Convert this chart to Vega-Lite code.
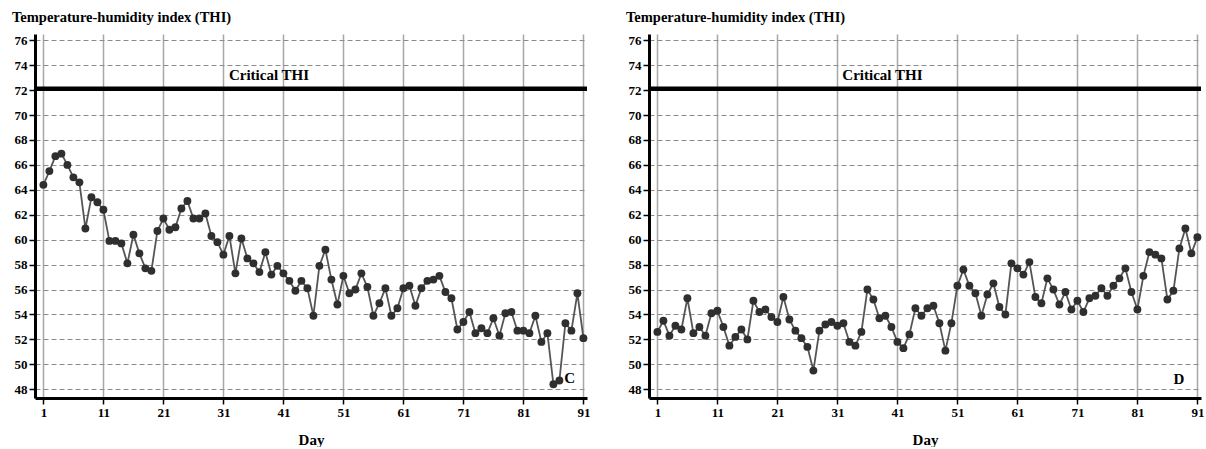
{
  "$schema": "https://vega.github.io/schema/vega-lite/v6.json",
  "padding": {"left": 12, "top": 9, "right": 0, "bottom": 0},
  "background": "white",
  "spacing": 36,
  "datasets": {
    "thi": [
      {"panel":"C","day":1,"thi":64.4},{"panel":"C","day":2,"thi":65.5},{"panel":"C","day":3,"thi":66.7},{"panel":"C","day":4,"thi":66.9},{"panel":"C","day":5,"thi":66.0},{"panel":"C","day":6,"thi":65.0},{"panel":"C","day":7,"thi":64.6},{"panel":"C","day":8,"thi":60.9},{"panel":"C","day":9,"thi":63.4},{"panel":"C","day":10,"thi":63.0},
      {"panel":"C","day":11,"thi":62.4},{"panel":"C","day":12,"thi":59.9},{"panel":"C","day":13,"thi":59.9},{"panel":"C","day":14,"thi":59.7},{"panel":"C","day":15,"thi":58.1},{"panel":"C","day":16,"thi":60.4},{"panel":"C","day":17,"thi":58.9},{"panel":"C","day":18,"thi":57.7},{"panel":"C","day":19,"thi":57.5},{"panel":"C","day":20,"thi":60.7},
      {"panel":"C","day":21,"thi":61.7},{"panel":"C","day":22,"thi":60.8},{"panel":"C","day":23,"thi":61.0},{"panel":"C","day":24,"thi":62.5},{"panel":"C","day":25,"thi":63.1},{"panel":"C","day":26,"thi":61.7},{"panel":"C","day":27,"thi":61.7},{"panel":"C","day":28,"thi":62.1},{"panel":"C","day":29,"thi":60.3},{"panel":"C","day":30,"thi":59.8},
      {"panel":"C","day":31,"thi":58.8},{"panel":"C","day":32,"thi":60.3},{"panel":"C","day":33,"thi":57.3},{"panel":"C","day":34,"thi":60.1},{"panel":"C","day":35,"thi":58.5},{"panel":"C","day":36,"thi":58.1},{"panel":"C","day":37,"thi":57.4},{"panel":"C","day":38,"thi":59.0},{"panel":"C","day":39,"thi":57.2},{"panel":"C","day":40,"thi":57.9},
      {"panel":"C","day":41,"thi":57.3},{"panel":"C","day":42,"thi":56.7},{"panel":"C","day":43,"thi":55.9},{"panel":"C","day":44,"thi":56.7},{"panel":"C","day":45,"thi":56.1},{"panel":"C","day":46,"thi":53.9},{"panel":"C","day":47,"thi":57.9},{"panel":"C","day":48,"thi":59.2},{"panel":"C","day":49,"thi":56.8},{"panel":"C","day":50,"thi":54.8},
      {"panel":"C","day":51,"thi":57.1},{"panel":"C","day":52,"thi":55.7},{"panel":"C","day":53,"thi":56.0},{"panel":"C","day":54,"thi":57.3},{"panel":"C","day":55,"thi":56.2},{"panel":"C","day":56,"thi":53.9},{"panel":"C","day":57,"thi":54.9},{"panel":"C","day":58,"thi":56.1},{"panel":"C","day":59,"thi":53.9},{"panel":"C","day":60,"thi":54.5},
      {"panel":"C","day":61,"thi":56.1},{"panel":"C","day":62,"thi":56.3},{"panel":"C","day":63,"thi":54.7},{"panel":"C","day":64,"thi":56.1},{"panel":"C","day":65,"thi":56.7},{"panel":"C","day":66,"thi":56.8},{"panel":"C","day":67,"thi":57.1},{"panel":"C","day":68,"thi":55.8},{"panel":"C","day":69,"thi":55.3},{"panel":"C","day":70,"thi":52.8},
      {"panel":"C","day":71,"thi":53.4},{"panel":"C","day":72,"thi":54.2},{"panel":"C","day":73,"thi":52.5},{"panel":"C","day":74,"thi":52.9},{"panel":"C","day":75,"thi":52.5},{"panel":"C","day":76,"thi":53.7},{"panel":"C","day":77,"thi":52.3},{"panel":"C","day":78,"thi":54.1},{"panel":"C","day":79,"thi":54.2},{"panel":"C","day":80,"thi":52.7},
      {"panel":"C","day":81,"thi":52.7},{"panel":"C","day":82,"thi":52.5},{"panel":"C","day":83,"thi":53.9},{"panel":"C","day":84,"thi":51.8},{"panel":"C","day":85,"thi":52.5},{"panel":"C","day":86,"thi":48.4},{"panel":"C","day":87,"thi":48.7},{"panel":"C","day":88,"thi":53.3},{"panel":"C","day":89,"thi":52.7},{"panel":"C","day":90,"thi":55.7},
      {"panel":"C","day":91,"thi":52.1},
      {"panel":"D","day":1,"thi":52.6},{"panel":"D","day":2,"thi":53.5},{"panel":"D","day":3,"thi":52.3},{"panel":"D","day":4,"thi":53.1},{"panel":"D","day":5,"thi":52.8},{"panel":"D","day":6,"thi":55.3},{"panel":"D","day":7,"thi":52.5},{"panel":"D","day":8,"thi":53.0},{"panel":"D","day":9,"thi":52.3},{"panel":"D","day":10,"thi":54.1},
      {"panel":"D","day":11,"thi":54.3},{"panel":"D","day":12,"thi":53.0},{"panel":"D","day":13,"thi":51.5},{"panel":"D","day":14,"thi":52.2},{"panel":"D","day":15,"thi":52.8},{"panel":"D","day":16,"thi":52.0},{"panel":"D","day":17,"thi":55.1},{"panel":"D","day":18,"thi":54.2},{"panel":"D","day":19,"thi":54.4},{"panel":"D","day":20,"thi":53.8},
      {"panel":"D","day":21,"thi":53.4},{"panel":"D","day":22,"thi":55.4},{"panel":"D","day":23,"thi":53.6},{"panel":"D","day":24,"thi":52.7},{"panel":"D","day":25,"thi":52.1},{"panel":"D","day":26,"thi":51.4},{"panel":"D","day":27,"thi":49.5},{"panel":"D","day":28,"thi":52.7},{"panel":"D","day":29,"thi":53.2},{"panel":"D","day":30,"thi":53.4},
      {"panel":"D","day":31,"thi":53.1},{"panel":"D","day":32,"thi":53.3},{"panel":"D","day":33,"thi":51.8},{"panel":"D","day":34,"thi":51.5},{"panel":"D","day":35,"thi":52.6},{"panel":"D","day":36,"thi":56.0},{"panel":"D","day":37,"thi":55.2},{"panel":"D","day":38,"thi":53.7},{"panel":"D","day":39,"thi":53.9},{"panel":"D","day":40,"thi":53.0},
      {"panel":"D","day":41,"thi":51.8},{"panel":"D","day":42,"thi":51.3},{"panel":"D","day":43,"thi":52.4},{"panel":"D","day":44,"thi":54.5},{"panel":"D","day":45,"thi":53.9},{"panel":"D","day":46,"thi":54.5},{"panel":"D","day":47,"thi":54.7},{"panel":"D","day":48,"thi":53.3},{"panel":"D","day":49,"thi":51.1},{"panel":"D","day":50,"thi":53.3},
      {"panel":"D","day":51,"thi":56.3},{"panel":"D","day":52,"thi":57.6},{"panel":"D","day":53,"thi":56.3},{"panel":"D","day":54,"thi":55.7},{"panel":"D","day":55,"thi":53.9},{"panel":"D","day":56,"thi":55.6},{"panel":"D","day":57,"thi":56.5},{"panel":"D","day":58,"thi":54.6},{"panel":"D","day":59,"thi":54.0},{"panel":"D","day":60,"thi":58.1},
      {"panel":"D","day":61,"thi":57.7},{"panel":"D","day":62,"thi":57.2},{"panel":"D","day":63,"thi":58.2},{"panel":"D","day":64,"thi":55.4},{"panel":"D","day":65,"thi":54.9},{"panel":"D","day":66,"thi":56.9},{"panel":"D","day":67,"thi":56.0},{"panel":"D","day":68,"thi":54.8},{"panel":"D","day":69,"thi":55.8},{"panel":"D","day":70,"thi":54.4},
      {"panel":"D","day":71,"thi":55.1},{"panel":"D","day":72,"thi":54.2},{"panel":"D","day":73,"thi":55.3},{"panel":"D","day":74,"thi":55.5},{"panel":"D","day":75,"thi":56.1},{"panel":"D","day":76,"thi":55.5},{"panel":"D","day":77,"thi":56.3},{"panel":"D","day":78,"thi":56.9},{"panel":"D","day":79,"thi":57.7},{"panel":"D","day":80,"thi":55.8},
      {"panel":"D","day":81,"thi":54.4},{"panel":"D","day":82,"thi":57.1},{"panel":"D","day":83,"thi":59.0},{"panel":"D","day":84,"thi":58.8},{"panel":"D","day":85,"thi":58.5},{"panel":"D","day":86,"thi":55.2},{"panel":"D","day":87,"thi":55.9},{"panel":"D","day":88,"thi":59.3},{"panel":"D","day":89,"thi":60.9},{"panel":"D","day":90,"thi":58.9},
      {"panel":"D","day":91,"thi":60.2}
    ],
    "critical": [{"name": "Critical THI", "thi": 72.1}]
  },
  "hconcat": [
    {
      "width": 552, "height": 364,
      "title": {"text": "Temperature-humidity index (THI)", "anchor": "start", "frame": "bounds", "offset": 9, "dx": -2},
      "layer": [
        {
          "data": {"name": "thi"},
          "transform": [{"filter": "datum.panel === 'C'"}],
          "encoding": {
            "x": {"field": "day", "type": "quantitative", "scale": {"domain": [-0.4, 91.6], "nice": false, "zero": false},
                  "axis": {"values": [1,11,21,31,41,51,61,71,81,91], "title": "Day", "labelOverlap": false}},
            "y": {"field": "thi", "type": "quantitative", "scale": {"domain": [47.3, 76.5], "nice": false, "zero": false},
                  "axis": {"values": [48,50,52,54,56,58,60,62,64,66,68,70,72,74,76], "title": null, "labelOverlap": false, "labelBound": false, "labelSeparation": 0}}
          },
          "layer": [
            {"mark": {"type": "line", "color": "#555555", "strokeWidth": 1.8}},
            {"mark": {"type": "circle", "size": 62, "color": "#2f2f2f", "opacity": 1}}
          ]
        },
        {
          "data": {"name": "critical"},
          "mark": {"type": "rule", "color": "black", "strokeWidth": 4.5},
          "encoding": {"y": {"field": "thi", "type": "quantitative",
                  "axis": {"values": [48,50,52,54,56,58,60,62,64,66,68,70,72,74,76], "title": null, "labelOverlap": false, "labelBound": false, "labelSeparation": 0}}}
        },
        {
          "data": {"name": "critical"},
          "mark": {"type": "text", "fontSize": 15, "fontWeight": "bold", "font": "Liberation Serif", "dy": -14, "color": "black"},
          "encoding": {
            "x": {"datum": 38.6, "type": "quantitative", "axis": {"values": [1,11,21,31,41,51,61,71,81,91], "title": "Day", "labelOverlap": false}},
            "y": {"field": "thi", "type": "quantitative", "axis": {"values": [48,50,52,54,56,58,60,62,64,66,68,70,72,74,76], "title": null, "labelOverlap": false, "labelBound": false, "labelSeparation": 0}},
            "text": {"field": "name"}}
        },
        {
          "data": {"values": [{"panel": "C"}]},
          "mark": {"type": "text", "fontSize": 15, "fontWeight": "bold", "font": "Liberation Serif", "color": "black"},
          "encoding": {
            "x": {"datum": 88.7, "type": "quantitative", "axis": {"values": [1,11,21,31,41,51,61,71,81,91], "title": "Day", "labelOverlap": false}},
            "y": {"datum": 48.9, "type": "quantitative", "axis": {"values": [48,50,52,54,56,58,60,62,64,66,68,70,72,74,76], "title": null, "labelOverlap": false, "labelBound": false, "labelSeparation": 0}},
            "text": {"field": "panel"}}
        }
      ]
    },
    {
      "width": 552, "height": 364,
      "title": {"text": "Temperature-humidity index (THI)", "anchor": "start", "frame": "bounds", "offset": 9, "dx": -2},
      "layer": [
        {
          "data": {"name": "thi"},
          "transform": [{"filter": "datum.panel === 'D'"}],
          "encoding": {
            "x": {"field": "day", "type": "quantitative", "scale": {"domain": [-0.4, 91.6], "nice": false, "zero": false},
                  "axis": {"values": [1,11,21,31,41,51,61,71,81,91], "title": "Day", "labelOverlap": false}},
            "y": {"field": "thi", "type": "quantitative", "scale": {"domain": [47.3, 76.5], "nice": false, "zero": false},
                  "axis": {"values": [48,50,52,54,56,58,60,62,64,66,68,70,72,74,76], "title": null, "labelOverlap": false, "labelBound": false, "labelSeparation": 0}}
          },
          "layer": [
            {"mark": {"type": "line", "color": "#555555", "strokeWidth": 1.8}},
            {"mark": {"type": "circle", "size": 62, "color": "#2f2f2f", "opacity": 1}}
          ]
        },
        {
          "data": {"name": "critical"},
          "mark": {"type": "rule", "color": "black", "strokeWidth": 4.5},
          "encoding": {"y": {"field": "thi", "type": "quantitative",
                  "axis": {"values": [48,50,52,54,56,58,60,62,64,66,68,70,72,74,76], "title": null, "labelOverlap": false, "labelBound": false, "labelSeparation": 0}}}
        },
        {
          "data": {"name": "critical"},
          "mark": {"type": "text", "fontSize": 15, "fontWeight": "bold", "font": "Liberation Serif", "dy": -14, "color": "black"},
          "encoding": {
            "x": {"datum": 38.5, "type": "quantitative", "axis": {"values": [1,11,21,31,41,51,61,71,81,91], "title": "Day", "labelOverlap": false}},
            "y": {"field": "thi", "type": "quantitative", "axis": {"values": [48,50,52,54,56,58,60,62,64,66,68,70,72,74,76], "title": null, "labelOverlap": false, "labelBound": false, "labelSeparation": 0}},
            "text": {"field": "name"}}
        },
        {
          "data": {"values": [{"panel": "D"}]},
          "mark": {"type": "text", "fontSize": 15, "fontWeight": "bold", "font": "Liberation Serif", "color": "black"},
          "encoding": {
            "x": {"datum": 87.9, "type": "quantitative", "axis": {"values": [1,11,21,31,41,51,61,71,81,91], "title": "Day", "labelOverlap": false}},
            "y": {"datum": 48.8, "type": "quantitative", "axis": {"values": [48,50,52,54,56,58,60,62,64,66,68,70,72,74,76], "title": null, "labelOverlap": false, "labelBound": false, "labelSeparation": 0}},
            "text": {"field": "panel"}}
        }
      ]
    }
  ],
  "config": {
    "font": "Liberation Serif",
    "view": {"stroke": null},
    "title": {"font": "Liberation Serif", "fontSize": 14.5, "fontWeight": "bold", "color": "black"},
    "axis": {
      "labelFont": "Liberation Serif", "labelFontSize": 13, "labelFontWeight": "bold", "labelColor": "black",
      "titleFont": "Liberation Serif", "titleFontSize": 15, "titleFontWeight": "bold", "titleColor": "black",
      "domainColor": "black", "domainWidth": 3, "tickColor": "black", "tickSize": 6, "tickWidth": 1.5,
      "labelPadding": 2, "grid": true
    },
    "axisX": {"gridColor": "#a8a8a8", "gridWidth": 1.5, "titlePadding": 13, "labelFlush": false},
    "axisY": {"gridColor": "#8c8c8c", "gridWidth": 1, "gridDash": [5, 3], "labelOverlap": false}
  }
}
